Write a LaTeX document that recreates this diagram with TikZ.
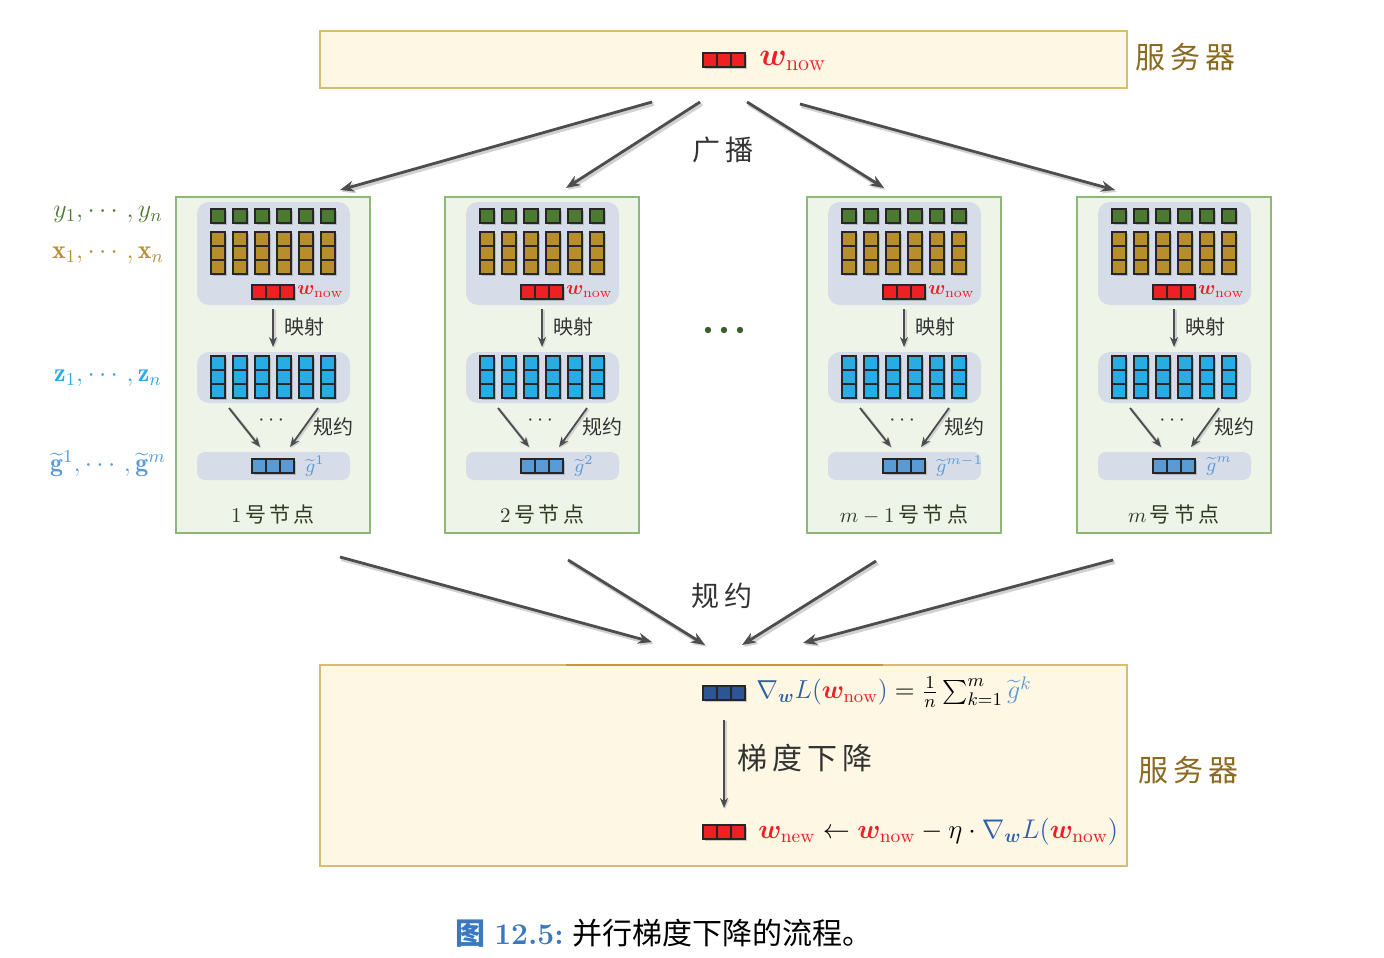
\RequirePackage{fix-cm}
\documentclass[tikz,border=0pt]{standalone}
\usepackage{fontspec}
\usepackage{amsmath,bm}
\newfontfamily\cjk{Noto Sans CJK SC}
\usetikzlibrary{arrows.meta,shadows}
\definecolor{srvfill}{HTML}{FDF7E3}
\definecolor{srvline}{HTML}{D8BC70}
\definecolor{srvdark}{HTML}{C49A3A}
\definecolor{srvtext}{HTML}{8A6A1E}
\definecolor{wkfill}{HTML}{EEF5E8}
\definecolor{wkline}{HTML}{8DB878}
\definecolor{innerfill}{HTML}{D6DCE8}
\definecolor{ygreen}{HTML}{4B7A30}
\definecolor{xgold}{HTML}{B88E2C}
\definecolor{zcyan}{HTML}{27ACE3}
\definecolor{gblue}{HTML}{5B9BD5}
\definecolor{wred}{HTML}{EE2024}
\definecolor{nblue}{HTML}{2F5FA8}
\definecolor{dblue}{HTML}{2C5596}
\definecolor{arrowgray}{HTML}{4D4D4D}
\definecolor{capblue}{HTML}{3A78C0}
\definecolor{dotgreen}{HTML}{3A5E2A}
\definecolor{labdark}{HTML}{333333}
\definecolor{nodelab}{HTML}{2F3A22}
\tikzset{
  cell/.style={draw=black!85, line width=0.6pt, drop shadow={opacity=0.4, shadow xshift=1.2pt, shadow yshift=-1.2pt}},
  sep/.style={draw=black!85, line width=0.6pt},
  srvbox/.style={draw=srvline, fill=srvfill, line width=0.7pt, inner sep=0pt, outer sep=0pt, minimum width=403.5pt},
  wkbox/.style={draw=wkline, fill=wkfill, line width=0.7pt, inner sep=0pt, outer sep=0pt, minimum width=97pt, minimum height=168pt},
  bigarrow/.style={draw=arrowgray, line width=1.4pt, -{Stealth[length=7pt,width=5.5pt]},
     preaction={draw=black!18, line width=2.2pt, transform canvas={xshift=0.8pt,yshift=-0.9pt}}},
  smallarrow/.style={draw=arrowgray, line width=0.9pt, -{Stealth[length=5pt,width=4pt]},
     preaction={draw=black!18, line width=1.5pt, transform canvas={xshift=0.6pt,yshift=-0.6pt}}},
  cjklab/.style={text=labdark, inner sep=0pt},
}
\newcommand\hblock[3]{%
  \filldraw[cell,fill=#3] (#1,#2) rectangle ++(42,14);
  \draw[sep] (#1+14,#2) -- ++(0,14) (#1+28,#2) -- ++(0,14);}
\newcommand\vcolumn[3]{%
  \filldraw[cell,fill=#3] (#1,#2) rectangle ++(14,42);
  \draw[sep] (#1,#2+14) -- ++(14,0) (#1,#2+28) -- ++(14,0);}
\newcommand\worker[4]{%
\begin{scope}[shift={(#1,0)}]
  \node[wkbox] (#2) at (97,365) {};
  \fill[innerfill, rounded corners=6pt] (21,202) rectangle (174,305);
  \fill[innerfill, rounded corners=6pt] (21,352) rectangle (174,403);
  \fill[innerfill, rounded corners=4pt] (21,452) rectangle (174,480);
  \foreach \i in {0,...,5}{
    \filldraw[cell,fill=ygreen] (35+22*\i,209) rectangle ++(14,14);
    \vcolumn{35+22*\i}{232}{xgold}
    \vcolumn{35+22*\i}{356}{zcyan}
  }
  \hblock{76}{285}{wred}
  \node[anchor=west, text=wred, inner sep=0pt, font=\fontsize{10}{11}\selectfont] (#2w) at (121,292) {$\bm{w}_{\mathrm{now}}$};
  \coordinate (#2m1) at (97,309);
  \coordinate (#2m2) at (97,347);
  \draw[smallarrow] (#2m1) -- (#2m2);
  \node[cjklab, anchor=west, font=\fontsize{10}{12}\selectfont\cjk] (#2ml) at (108,327) {映射};
  \coordinate (#2r1) at (53,408);
  \coordinate (#2r2) at (84,447);
  \coordinate (#2r3) at (142,408);
  \coordinate (#2r4) at (114,447);
  \draw[smallarrow] (#2r1) -- (#2r2);
  \draw[smallarrow] (#2r3) -- (#2r4);
  \node[text=labdark, inner sep=0pt, font=\fontsize{11}{12}\selectfont] (#2d) at (97,421) {$\cdots$};
  \node[cjklab, anchor=west, font=\fontsize{10}{11}\selectfont\cjk] (#2rl) at (137,427) {规约};
  \hblock{76}{459}{gblue}
  \node[anchor=west, text=gblue, inner sep=0pt, font=\fontsize{9.5}{10}\selectfont] (#2g) at (129,466) {$\widetilde{g}^{#3}$};
  \node[text=nodelab, font=\fontsize{10.5}{12}\selectfont] (#2l) at (97,515) {#4};
\end{scope}}
\begin{document}
\begin{tikzpicture}[x=0.5pt,y=-0.5pt]
\useasboundingbox (0,0) rectangle (1384,957);
% top server
\node[srvbox, minimum height=28.5pt] (top) at (723.5,59.5) {};
\hblock{703}{53}{wred}
\node[anchor=west, text=wred, inner sep=0pt, font=\fontsize{16}{18}\selectfont] (topw) at (759,61) {$\bm{w}_{\mathrm{now}}$};
\node[text=srvtext, font=\fontsize{15}{18}\selectfont\cjk] (toplab) at (1185,57) {服\,务\,器};
% broadcast
\coordinate (b1s) at (652,102); \coordinate (b1e) at (340,190);
\coordinate (b2s) at (700,102); \coordinate (b2e) at (566,188);
\coordinate (b3s) at (747,102); \coordinate (b3e) at (884,188);
\coordinate (b4s) at (800,104); \coordinate (b4e) at (1115,190);
\draw[bigarrow] (b1s) -- (b1e);
\draw[bigarrow] (b2s) -- (b2e);
\draw[bigarrow] (b3s) -- (b3e);
\draw[bigarrow] (b4s) -- (b4e);
\node[cjklab, font=\fontsize{14}{16}\selectfont\cjk] (bclab) at (723,150) {广\,播};
% left labels
\node[text=ygreen, font=\fontsize{13}{15}\selectfont] (ly) at (108,214) {$y_1,\cdots,y_n$};
\node[text=xgold, font=\fontsize{13}{15}\selectfont] (lx) at (108,255) {$\mathbf{x}_1,\cdots,\mathbf{x}_n$};
\node[text=zcyan, font=\fontsize{13}{15}\selectfont] (lz) at (108,378) {$\mathbf{z}_1,\cdots,\mathbf{z}_n$};
\node[text=gblue, font=\fontsize{13}{15}\selectfont] (lg) at (108,464) {$\widetilde{\mathbf{g}}^1,\cdots,\widetilde{\mathbf{g}}^m$};
% workers
\worker{176}{n1}{1}{1{\cjk\,号\,节\,点}}
\worker{445}{n2}{2}{2{\cjk\,号\,节\,点}}
\worker{807}{n3}{m-1}{$m-1${\cjk\,号\,节\,点}}
\worker{1077}{n4}{m}{$m${\cjk\,号\,节\,点}}
% middle dots
\fill[dotgreen] (708,330) circle (3.2);
\fill[dotgreen] (724,330) circle (3.2);
\fill[dotgreen] (740,330) circle (3.2);
% reduce arrows
\coordinate (r1s) at (340,557); \coordinate (r1e) at (652,642);
\coordinate (r2s) at (568,560); \coordinate (r2e) at (705,645);
\coordinate (r3s) at (876,561); \coordinate (r3e) at (742,645);
\coordinate (r4s) at (1113,560); \coordinate (r4e) at (803,643);
\draw[bigarrow] (r1s) -- (r1e);
\draw[bigarrow] (r2s) -- (r2e);
\draw[bigarrow] (r3s) -- (r3e);
\draw[bigarrow] (r4s) -- (r4e);
\node[cjklab, font=\fontsize{14}{16}\selectfont\cjk] (rdlab) at (722,596) {规\,约};
% bottom server
\node[srvbox, minimum height=100.5pt] (bot) at (723.5,765.5) {};
\draw[srvdark, line width=1.2pt] (566,665) -- (883,665);
\node[text=srvtext, font=\fontsize{15}{18}\selectfont\cjk] (botlab) at (1188,770) {服\,务\,器};
\hblock{703}{686}{dblue}
\node[anchor=west, inner sep=0pt, font=\fontsize{13}{15}\selectfont] (f1) at (756,692)
  {$\color{nblue}\nabla_{\bm{w}}L(\textcolor{wred}{\bm{w}_{\mathrm{now}}})\color{black}=\frac{1}{n}\sum_{k=1}^m\textcolor{gblue}{\widetilde{g}^k}$};
\coordinate (gd1) at (724,720);
\coordinate (gd2) at (724,808);
\draw[smallarrow] (gd1) -- (gd2);
\node[cjklab, anchor=west, font=\fontsize{15}{17}\selectfont\cjk] (gdlab) at (737,758) {梯\,度\,下\,降};
\hblock{703}{825}{wred}
\node[anchor=west, inner sep=0pt, font=\fontsize{13.5}{15}\selectfont] (f2) at (758,832)
  {$\textcolor{wred}{\bm{w}_{\mathrm{new}}}\leftarrow\textcolor{wred}{\bm{w}_{\mathrm{now}}}-\eta\cdot\color{nblue}\nabla_{\bm{w}}L(\textcolor{wred}{\bm{w}_{\mathrm{now}}})$};
% caption
\node[font=\fontsize{15}{17}\selectfont] (cap) at (664,933)
  {\textcolor{capblue}{{\cjk\bfseries 图} \textbf{12.5:}}\ {\cjk 并行梯度下降的流程。}};
\end{tikzpicture}
\end{document}
